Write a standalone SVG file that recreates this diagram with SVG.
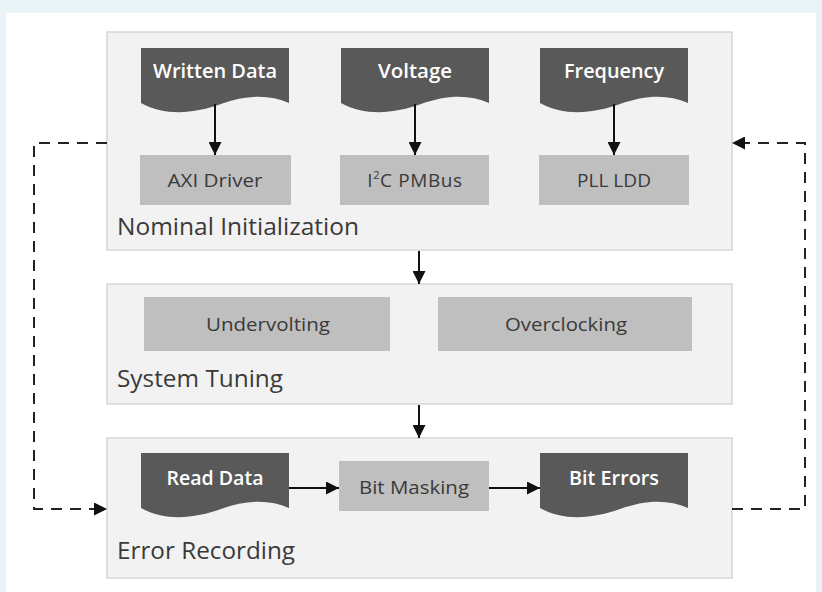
<svg xmlns="http://www.w3.org/2000/svg" width="822" height="592" viewBox="0 0 822 592">
<defs>
<style>
.grp{fill:#f2f2f2;stroke:#d6d6d6;stroke-width:1.5}
.box{fill:#bfbfbf}
.doc{fill:#595959}
.dt{font-family:"Open Sans","Liberation Sans",sans-serif;font-weight:600;font-size:19px;fill:#ffffff;text-anchor:middle}
.bt{font-family:"Open Sans","Liberation Sans",sans-serif;font-size:19px;fill:#3a3a3a;text-anchor:middle}
.gt{font-family:"Open Sans","Liberation Sans",sans-serif;font-size:23px;fill:#3a3a3a}
.ln{stroke:#111;stroke-width:2;fill:none}
.dash{stroke:#222;stroke-width:2;fill:none;stroke-dasharray:11 8}
</style>
<marker id="ah" viewBox="0 0 10 10" refX="10" refY="5" markerWidth="6.5" markerHeight="6.5" markerUnits="strokeWidth" orient="auto">
<path d="M0,0 L10,5 L0,10 Z" fill="#111"/>
</marker>
<path id="docshape" d="M0,0 H148 V55 C128,46 105,47 80,56 C55,65 25,69 0,55 Z"/>
</defs>
<rect x="0" y="0" width="822" height="592" fill="#eaf3f6"/>
<rect x="6" y="13" width="810" height="579" fill="#ffffff"/>

<g id="nominal-initialization">
<rect class="grp" x="107" y="32" width="625" height="218"/>
<text class="gt" x="117" y="235" textLength="242" lengthAdjust="spacingAndGlyphs">Nominal Initialization</text>
</g>
<g id="written-data">
<use href="#docshape" class="doc" x="141" y="48"/>
<text class="dt" x="215" y="78" textLength="124" lengthAdjust="spacingAndGlyphs">Written Data</text>
</g>
<g id="voltage">
<use href="#docshape" class="doc" x="341" y="48"/>
<text class="dt" x="415" y="78" textLength="74" lengthAdjust="spacingAndGlyphs">Voltage</text>
</g>
<g id="frequency">
<use href="#docshape" class="doc" x="540" y="48"/>
<text class="dt" x="614" y="78" textLength="100" lengthAdjust="spacingAndGlyphs">Frequency</text>
</g>
<g id="axi-driver">
<rect class="box" x="140" y="155" width="151" height="50"/>
<text class="bt" x="215" y="187" textLength="95" lengthAdjust="spacingAndGlyphs">AXI Driver</text>
</g>
<g id="i2c-pmbus">
<rect class="box" x="340" y="155" width="149" height="50"/>
<text class="bt" x="415" y="187" font-size="19" letter-spacing="0.6">I<tspan font-size="11" dy="-8">2</tspan><tspan dy="8">C PMBus</tspan></text>
</g>
<g id="pll-ldd">
<rect class="box" x="539" y="155" width="150" height="50"/>
<text class="bt" x="614" y="187" textLength="74" lengthAdjust="spacingAndGlyphs">PLL LDD</text>
</g>

<g id="system-tuning">
<rect class="grp" x="107" y="284" width="625" height="120"/>
<text class="gt" x="117" y="387" textLength="166" lengthAdjust="spacingAndGlyphs">System Tuning</text>
</g>
<g id="undervolting">
<rect class="box" x="144" y="297" width="246" height="54"/>
<text class="bt" x="268" y="331" textLength="124" lengthAdjust="spacingAndGlyphs">Undervolting</text>
</g>
<g id="overclocking">
<rect class="box" x="438" y="297" width="254" height="54"/>
<text class="bt" x="566" y="331" textLength="122" lengthAdjust="spacingAndGlyphs">Overclocking</text>
</g>

<g id="error-recording">
<rect class="grp" x="107" y="438" width="625" height="140"/>
<text class="gt" x="117" y="559" textLength="178" lengthAdjust="spacingAndGlyphs">Error Recording</text>
</g>
<g id="read-data">
<use href="#docshape" class="doc" x="141" y="453"/>
<text class="dt" x="215" y="485" textLength="97" lengthAdjust="spacingAndGlyphs">Read Data</text>
</g>
<g id="bit-masking">
<rect class="box" x="339" y="461" width="150" height="50"/>
<text class="bt" x="414" y="494" textLength="110" lengthAdjust="spacingAndGlyphs">Bit Masking</text>
</g>
<g id="bit-errors">
<use href="#docshape" class="doc" x="540" y="453"/>
<text class="dt" x="614" y="485" textLength="90" lengthAdjust="spacingAndGlyphs">Bit Errors</text>
</g>

<g id="connectors">
<line class="ln" x1="215" y1="104" x2="215" y2="155" marker-end="url(#ah)"/>
<line class="ln" x1="415" y1="104" x2="415" y2="155" marker-end="url(#ah)"/>
<line class="ln" x1="614" y1="104" x2="614" y2="155" marker-end="url(#ah)"/>
<line class="ln" x1="419" y1="251" x2="419" y2="284" marker-end="url(#ah)"/>
<line class="ln" x1="419" y1="405" x2="419" y2="438" marker-end="url(#ah)"/>
<line class="ln" x1="289" y1="488" x2="339" y2="488" marker-end="url(#ah)"/>
<line class="ln" x1="489" y1="488" x2="540" y2="488" marker-end="url(#ah)"/>
<path class="dash" d="M107,143 H34 V509 H107" marker-end="url(#ah)"/>
<path class="dash" d="M732,509 H805 V143 H732" marker-end="url(#ah)"/>
</g>
</svg>
